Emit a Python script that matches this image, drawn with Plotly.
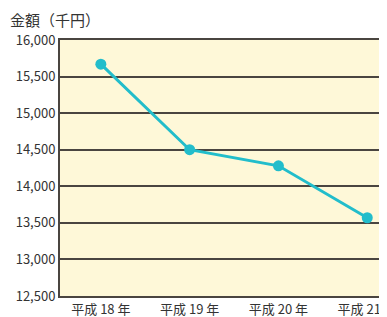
import plotly.graph_objects as go

categories = ["平成 18 年", "平成 19 年", "平成 20 年", "平成 21 年"]
values = [15670, 14500, 14280, 13570]
y_ticks = [12500, 13000, 13500, 14000, 14500, 15000, 15500, 16000]
y_tick_labels = ["12,500", "13,000", "13,500", "14,000", "14,500", "15,000", "15,500", "16,000"]

font_family = "Noto Sans CJK JP"
fig = go.Figure()
fig.add_trace(go.Scatter(
    x=list(range(len(categories))), y=values, mode="lines+markers",
    line=dict(color="#22BDCB", width=3),
    marker=dict(color="#22BDCB", size=11),
    cliponaxis=False,
))
fig.update_layout(
    width=379, height=309,
    margin=dict(l=52, r=2, t=32, b=21),
    paper_bgcolor="white", plot_bgcolor="#FEF8D8",
    showlegend=False,
    font=dict(family=font_family, color="#333333", size=13),
    annotations=[dict(text="金額（千円）", xref="paper", yref="paper", x=-0.16, y=1.0,
                      xanchor="left", yanchor="bottom", yshift=8, showarrow=False,
                      font=dict(size=15, color="#333333", family=font_family))],
)
fig.update_xaxes(
    range=[-0.46, 3.2], tickmode="array", tickvals=list(range(len(categories))),
    ticktext=categories, showgrid=False, zeroline=False,
    showline=True, linecolor="#4a4540", linewidth=2, mirror=True,
    ticks="", tickfont=dict(size=13), ticklabeloverflow="allow", automargin=False,
)
fig.update_yaxes(
    range=[12500, 16000], tickmode="array", tickvals=y_ticks, ticktext=y_tick_labels,
    showgrid=True, gridcolor="#4a4540", gridwidth=2, zeroline=False,
    showline=True, linecolor="#4a4540", linewidth=2, mirror=True,
    ticks="", tickfont=dict(size=13), automargin=False,
)
fig.write_html("out.html")
